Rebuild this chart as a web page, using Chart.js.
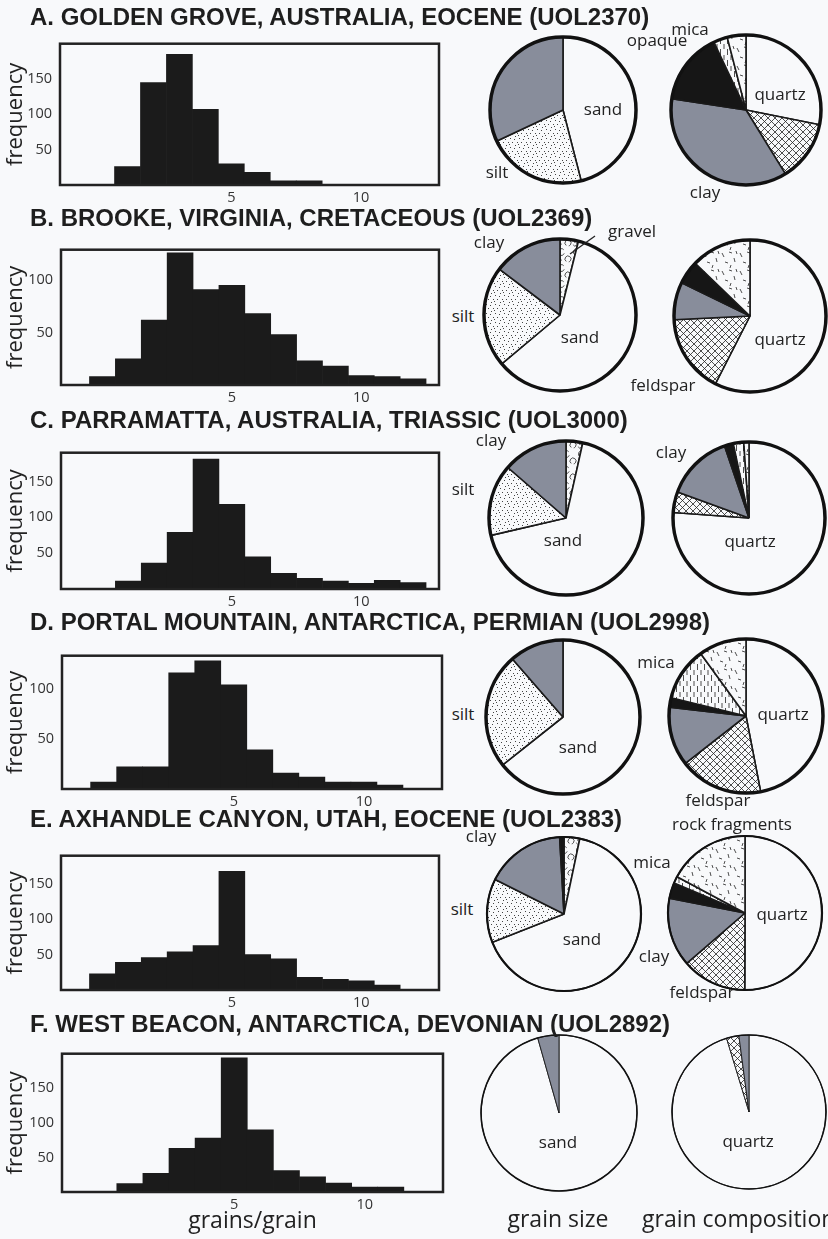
<!DOCTYPE html>
<html lang="en">
<head>
<meta charset="UTF-8">
<title>Grain size and composition</title>
<script src="https://cdn.jsdelivr.net/npm/chart.js/dist/chart.umd.min.js"></script>
<style>
  html, body { margin: 0; padding: 0; background: #f8f9fb; overflow: hidden; }
  #page { position: relative; width: 828px; height: 1239px; overflow: hidden; font-family: "Open Sans", sans-serif; color: #222; }
  #page canvas { position: absolute; }
  .title { position: absolute; left: 30px; font: bold 24px/24px "Liberation Sans", Arial, sans-serif; color: #1e1e1e; white-space: nowrap; }
  .lbl { position: absolute; white-space: nowrap; line-height: 1; transform: translateX(-50%); }
</style>
</head>
<body>
<div id="page"></div>
<script>
// ---- titles
const titles = [
  "A. GOLDEN GROVE, AUSTRALIA, EOCENE (UOL2370)",
  "B. BROOKE, VIRGINIA, CRETACEOUS (UOL2369)",
  "C. PARRAMATTA, AUSTRALIA, TRIASSIC (UOL3000)",
  "D. PORTAL MOUNTAIN, ANTARCTICA, PERMIAN (UOL2998)",
  "E. AXHANDLE CANYON, UTAH, EOCENE (UOL2383)",
  "F. WEST BEACON, ANTARCTICA, DEVONIAN (UOL2892)"
];

// ---- histograms (grains/grain, bins centred on whole numbers)
const binsA = [1, 2, 3, 4, 5, 6, 7, 8];
const freqA = [26, 145, 185, 107, 30, 18, 6, 6];
const binsB = [0, 1, 2, 3, 4, 5, 6, 7, 8, 9, 10, 11, 12];
const freqB = [8, 25, 62, 126, 91, 95, 68, 48, 23, 18, 9, 8, 6];
const binsC = [1, 2, 3, 4, 5, 6, 7, 8, 9, 10, 11, 12];
const freqC = [11, 36, 79, 181, 118, 45, 22, 15, 11, 8, 12, 9];
const binsD = [0, 1, 2, 3, 4, 5, 6, 7, 8, 9, 10, 11];
const freqD = [7, 22, 22, 116, 128, 104, 39, 16, 12, 7, 7, 4];
const binsE = [0, 1, 2, 3, 4, 5, 6, 7, 8, 9, 10, 11];
const freqE = [23, 39, 46, 54, 63, 168, 50, 44, 18, 15, 13, 7];
const binsF = [1, 2, 3, 4, 5, 6, 7, 8, 9, 10, 11];
const freqF = [12, 27, 63, 78, 194, 90, 31, 22, 13, 7, 7];

const xTicks = [5, 10];
const yTicksTall = [50, 100, 150];
const yTicksShort = [50, 100];

// ---- pies, slices listed clockwise from 12 o'clock (percent)
const sizeKindsA = ["sand", "silt", "clay"];
const sizeA = [46, 22, 32];
const compKindsA = ["quartz", "feldspar", "clay", "opaque", "mica", "rock fragments"];
const compA = [28, 13, 36, 15.5, 3, 4];

const sizeKindsB = ["gravel", "sand", "silt", "clay"];
const sizeB = [3.9, 60, 21.4, 14.7];
const compKindsB = ["quartz", "feldspar", "clay", "opaque", "rock fragments"];
const compB = [57.5, 16.7, 8, 5, 12.8];

const sizeKindsC = ["gravel", "sand", "silt", "clay"];
const sizeC = [3.5, 67.8, 15, 13.6];
const compKindsC = ["quartz", "feldspar", "clay", "opaque", "mica", "rock fragments"];
const compC = [76, 4.4, 14.2, 1.9, 2.2, 1.1];

const sizeKindsD = ["sand", "silt", "clay"];
const sizeD = [64.3, 24.3, 11.4];
const compKindsD = ["quartz", "feldspar", "clay", "opaque", "mica", "rock fragments"];
const compD = [47, 17.5, 12.4, 2, 11.2, 10];

const sizeKindsE = ["gravel", "sand", "silt", "clay", "opaque"];
const sizeE = [3.3, 65.7, 13.4, 16.7, 0.9];
const compKindsE = ["quartz", "feldspar", "clay", "opaque", "mica", "rock fragments"];
const compE = [50, 13.6, 14.4, 3.3, 1.4, 17.2];

const sizeKindsF = ["sand", "clay"];
const sizeF = [95.6, 4.4];
const compKindsF = ["quartz", "feldspar", "clay"];
const compF = [95.3, 2.6, 2.1];

// ---- layout (pixel boxes of the histograms, pie centres/radii, label spots)
const rows = [
  { titleY: 17, box: [60, 33, 439, 185], bins: binsA, freq: freqA, yMax: 200, yTicks: yTicksTall,
    pies: [[563, 110, 73, sizeKindsA, sizeA], [746, 110, 75, compKindsA, compA]], ring: 3.5,
    labels: [["sand", 603, 110], ["silt", 497, 173], ["mica", 690, 30], ["opaque", 657, 41], ["quartz", 780, 95], ["clay", 705, 193]] },
  { titleY: 218, box: [61, 239, 439, 385], bins: binsB, freq: freqB, yMax: 129, yTicks: yTicksShort,
    pies: [[560, 315, 76, sizeKindsB, sizeB], [750, 316, 76, compKindsB, compB]], ring: 3.5,
    labels: [["clay", 489, 243], ["gravel", 632, 232], ["silt", 463, 317], ["sand", 580, 338], ["quartz", 780, 340], ["feldspar", 663, 386]] },
  { titleY: 420, box: [61, 442, 439, 589], bins: binsC, freq: freqC, yMax: 190, yTicks: yTicksTall,
    pies: [[566, 518, 77, sizeKindsC, sizeC], [749, 518, 76, compKindsC, compC]], ring: 3.5,
    labels: [["clay", 491, 441], ["silt", 463, 490], ["sand", 563, 541], ["clay", 671, 453], ["quartz", 750, 542]] },
  { titleY: 622, box: [62, 645, 442, 789], bins: binsD, freq: freqD, yMax: 133, yTicks: yTicksShort,
    pies: [[563, 717, 77, sizeKindsD, sizeD], [746, 716, 77, compKindsD, compD]], ring: 3.5,
    labels: [["silt", 463, 715], ["sand", 578, 748], ["mica", 656, 663], ["quartz", 783, 715], ["feldspar", 718, 801]] },
  { titleY: 819, box: [61, 845, 439, 990], bins: binsE, freq: freqE, yMax: 190, yTicks: yTicksTall,
    pies: [[564, 914, 77, sizeKindsE, sizeE], [745, 913, 77, compKindsE, compE]], ring: 2.2,
    labels: [["clay", 481, 837], ["silt", 462, 910], ["sand", 582, 940], ["rock fragments", 732, 825], ["mica", 652, 863],
             ["quartz", 782, 915], ["clay", 654, 957], ["feldspar", 702, 993]] },
  { titleY: 1024, box: [62, 1043, 443, 1192], bins: binsF, freq: freqF, yMax: 200, yTicks: yTicksTall, xTitle: "grains/grain",
    pies: [[559, 1113, 78, sizeKindsF, sizeF], [749, 1112, 77, compKindsF, compF]], ring: 1.6,
    labels: [["sand", 558, 1143], ["quartz", 748, 1142]] }
];

const page = document.getElementById("page");
const BG = "#f8f9fb";
Chart.defaults.font.family = "'Open Sans', sans-serif";

function addCanvas(x, y, w, h) {
  const c = document.createElement("canvas");
  c.width = w; c.height = h;
  c.style.left = x + "px"; c.style.top = y + "px";
  page.appendChild(c);
  return c;
}

// small tiles for the hatched fills
function tile(w, h, draw) {
  const c = document.createElement("canvas");
  c.width = w; c.height = h;
  const g = c.getContext("2d");
  g.fillStyle = BG; g.fillRect(0, 0, w, h);
  g.strokeStyle = "#222"; g.fillStyle = "#444"; g.lineWidth = 0.8;
  draw(g);
  return g.createPattern(c, "repeat");
}
function seg(g, pts) {
  g.beginPath();
  for (let i = 0; i < pts.length; i += 4) { g.moveTo(pts[i], pts[i + 1]); g.lineTo(pts[i + 2], pts[i + 3]); }
  g.stroke();
}

const fills = {
  sand: BG,
  quartz: BG,
  clay: "#888d9b",
  opaque: "#161616",
  silt: tile(9, 9, g => { [[1, 1], [5, 2], [8, 5], [3, 5], [6, 8], [0, 7]].forEach(p => g.fillRect(p[0], p[1], 1, 1)); }),
  feldspar: tile(7, 7, g => seg(g, [-1, -1, 8, 8, 8, -1, -1, 8])),
  mica: tile(7, 11, g => seg(g, [1.5, 0, 1.5, 6, 5, 6, 5, 11, 5, -5, 5, 0])),
  "rock fragments": tile(18, 18, g => seg(g, [2, 3, 4, 7, 9, 2, 12, 3, 14, 8, 15, 12, 5, 12, 8, 13, 11, 15, 10, 18, 16, 1, 17, 4])),
  gravel: tile(16, 16, g => {
    g.beginPath(); g.arc(5, 5, 3.5, 0.4, 5.6); g.stroke();
    g.beginPath(); g.arc(12, 12, 3, 2.2, 7.6); g.stroke();
    g.beginPath(); g.arc(3, 13, 2, 4.2, 9); g.stroke();
  })
};

const boxPlugin = {
  id: "box",
  afterDraw(chart) {
    const a = chart.chartArea, g = chart.ctx;
    g.save(); g.lineWidth = 2.5; g.strokeStyle = "#222";
    g.strokeRect(a.left, a.top, a.right - a.left, a.bottom - a.top);
    g.restore();
  }
};

function histogram(row) {
  const [l, t, r, b] = row.box;
  const padTop = 6, axisH = row.xTitle ? 45 : 24;
  const cv = addCanvas(0, t - padTop, r + 4, b - t + padTop + axisH);
  new Chart(cv, {
    type: "bar",
    data: {
      datasets: [{
        data: row.bins.map((x, i) => ({ x: x, y: row.freq[i] })),
        backgroundColor: "#1b1b1b",
        borderWidth: 0,
        barPercentage: 1,
        categoryPercentage: 1
      }]
    },
    options: {
      responsive: false, animation: false, events: [],
      layout: { padding: { top: padTop, right: 4, left: 0, bottom: 0 } },
      plugins: { legend: { display: false }, tooltip: { enabled: false } },
      scales: {
        x: {
          type: "linear", min: -1.6, max: 13, offset: false,
          grid: { display: false, drawTicks: false }, border: { display: false },
          afterBuildTicks: s => { s.ticks = xTicks.map(v => ({ value: v })); },
          afterFit: s => { s.height = axisH; },
          ticks: { font: { size: 14.5 }, color: "#333", padding: 4 },
          title: { display: !!row.xTitle, text: row.xTitle || "", font: { size: 23 }, color: "#222", padding: { top: 0, bottom: 2 } }
        },
        y: {
          min: 0, max: row.yMax,
          grid: { display: false, drawTicks: false }, border: { display: false },
          afterBuildTicks: s => { s.ticks = row.yTicks.map(v => ({ value: v })); },
          afterFit: s => { s.width = l; },
          ticks: { font: { size: 14.5 }, color: "#333", padding: 8 },
          title: { display: true, text: "frequency", font: { size: 22 }, color: "#222", padding: { top: 3, bottom: 0 } }
        }
      }
    },
    plugins: [boxPlugin]
  });
}

function ringPlugin(w) {
  return {
    id: "ring",
    afterDatasetsDraw(chart) {
      const a = chart.getDatasetMeta(0).data[0], g = chart.ctx;
      g.save(); g.lineWidth = w; g.strokeStyle = "#111";
      g.beginPath(); g.arc(a.x, a.y, a.outerRadius, 0, Math.PI * 2); g.stroke();
      g.restore();
    }
  };
}

function pie(cx, cy, R, kinds, values, ring) {
  const S = 2 * Math.round(R + 8);
  const cv = addCanvas(Math.round(cx - S / 2), Math.round(cy - S / 2), S, S);
  new Chart(cv, {
    type: "pie",
    data: {
      labels: kinds,
      datasets: [{
        data: values,
        backgroundColor: kinds.map(k => fills[k]),
        borderColor: "#1a1a1a",
        borderWidth: ring > 2 ? 1.6 : 0.9
      }]
    },
    options: {
      responsive: false, animation: false, events: [], radius: R,
      layout: { padding: 0 },
      plugins: { legend: { display: false }, tooltip: { enabled: false } }
    },
    plugins: [ringPlugin(ring)]
  });
}

function text(t, x, y, size, alignLeft) {
  const d = document.createElement("div");
  d.className = "lbl";
  d.textContent = t;
  d.style.fontSize = size + "px";
  d.style.left = x + "px";
  d.style.top = (y - 0.6 * size) + "px";
  if (alignLeft) d.style.transform = "none";
  page.appendChild(d);
}

rows.forEach(row => {
  histogram(row);
  row.pies.forEach(p => pie(p[0], p[1], p[2], p[3], p[4], row.ring));
});

rows.forEach((row, i) => {
  const t = document.createElement("div");
  t.className = "title";
  t.textContent = titles[i];
  t.style.top = (row.titleY - 11.7) + "px";
  page.appendChild(t);
  row.labels.forEach(l => text(l[0], l[1], l[2], 17));
});

// gravel leader line (panel B)
const svg = document.createElementNS("http://www.w3.org/2000/svg", "svg");
svg.setAttribute("width", "828"); svg.setAttribute("height", "1239");
svg.style.position = "absolute"; svg.style.left = "0"; svg.style.top = "0";
svg.innerHTML = '<line x1="570" y1="254" x2="595" y2="236" stroke="#222" stroke-width="1.3"/>';
page.appendChild(svg);

text("grain size", 558, 1221, 23);
text("grain composition", 642, 1221, 23, true);
</script>
</body>
</html>
